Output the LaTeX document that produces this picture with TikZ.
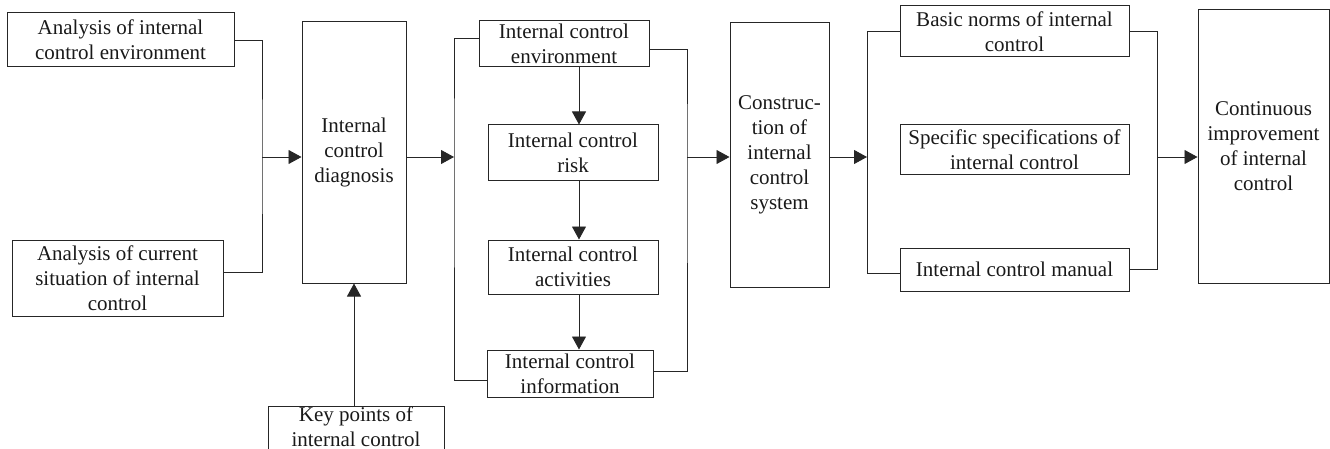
\documentclass[tikz,border=0pt]{standalone}
\usepackage{fontspec}
\setmainfont{Liberation Serif}
\usetikzlibrary{arrows.meta,calc}
\begin{document}
\begin{tikzpicture}[x=1pt,y=-1pt,
  box/.style={draw=black!85, line width=1pt, rectangle, inner sep=0pt, align=center,
    font=\fontsize{21}{25}\selectfont, text=black!90},
  flow/.style={-{Triangle[length=13pt,width=14pt]}, draw=black!85, line width=0.9pt},
  link/.style={draw=black!85, line width=0.9pt}]
\useasboundingbox (0,0) rectangle (1330,449);

% Stage 1: analysis inputs and diagnosis
\node[box, minimum width=227pt, minimum height=54pt] (a1) at (120.5,40)
  {Analysis of internal\\control environment};
\node[box, minimum width=211pt, minimum height=76pt] (a2) at (117.5,278)
  {Analysis of current\\situation of internal\\control};
\node[box, minimum width=104pt, minimum height=261pt] (diag) at (354,152.5)
  {Internal\\control\\diagnosis};
\node[box, minimum width=176pt, minimum height=50pt, text depth=8pt] (key) at (356,431)
  {Key points of\\internal control};

% Stage 2: control elements
\node[box, minimum width=170pt, minimum height=46pt] (env) at (564,44)
  {Internal control\\environment};
\node[box, minimum width=170pt, minimum height=56pt] (risk) at (573,153)
  {Internal control\\risk};
\node[box, minimum width=170pt, minimum height=54pt] (act) at (573,267)
  {Internal control\\activities};
\node[box, minimum width=166pt, minimum height=47pt] (info) at (570,373.5)
  {Internal control\\information};

% Stage 3: system construction
\node[box, minimum width=99pt, minimum height=264pt] (constr) at (779.5,155)
  {Construc-\\tion of\\internal\\control\\system};

% Stage 4: norms, specifications, manual
\node[box, minimum width=229pt, minimum height=51pt] (basic) at (1014.5,31.5)
  {Basic norms of internal\\control};
\node[box, minimum width=229pt, minimum height=50pt] (spec) at (1014.5,150)
  {Specific specifications of\\internal control};
\node[box, minimum width=229pt, minimum height=43pt] (manual) at (1014.5,269.5)
  {Internal control manual};

% Stage 5
\node[box, minimum width=131pt, minimum height=273pt] (cont) at (1263.5,146.5)
  {Continuous\\improvement\\of internal\\control};

% junction points on the main flow line
\coordinate (j1) at (262,157);
\coordinate (j2) at (454,157);
\coordinate (j3) at (687,157);
\coordinate (j5) at (867,157);
\coordinate (j6) at (1157,157);
\coordinate (col) at (579,0);

% connectors
\draw[link] (a1.east) -| (j1) |- ([yshift=6pt]a2.east);
\draw[flow] (j1) -- (j1 -| diag.west);
\draw[flow] (key.north -| diag.south) -- (diag.south);
\draw[flow] (diag.east |- j2) -- (j2);

\draw[link] ([yshift=6pt]env.west) -| (j2) |- ([yshift=-6.5pt]info.west);
\draw[link] ([yshift=-5pt]env.east) -| (j3) |- ([yshift=2.5pt]info.east);
\draw[flow] (env.south -| col) -- (risk.north -| col);
\draw[flow] (risk.south -| col) -- (act.north -| col);
\draw[flow] (act.south -| col) -- (info.north -| col);
\draw[flow] (j3) -- (j3 -| constr.west);

\draw[flow] (constr.east |- j5) -- (j5);
\draw[link] (basic.west) -| (j5) |- ([yshift=-3.5pt]manual.west);
\draw[link] (basic.east) -| (j6) |- ([yshift=0.5pt]manual.east);
\draw[flow] (j6) -- (j6 -| cont.west);
\end{tikzpicture}
\end{document}
